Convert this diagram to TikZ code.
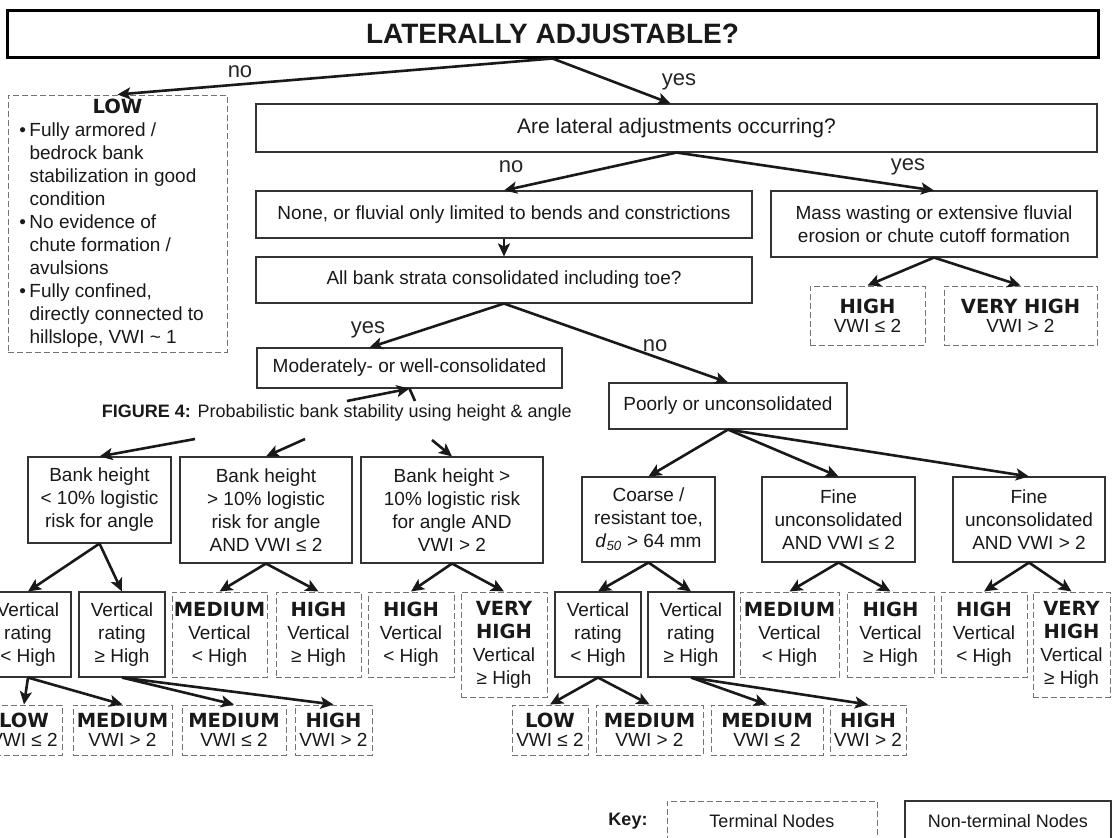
\documentclass[tikz,border=0pt]{standalone}
\usepackage{fontspec}
\setmainfont{Liberation Sans}
\newfontfamily\heavyfam{DejaVu Sans}
\usepackage{tikz}
\usetikzlibrary{arrows.meta}

\newcommand\boxfont{\fontsize{19}{23}\selectfont}
\newcommand\bigfont{\fontsize{21}{25}\selectfont}
\newcommand\rankfont{\heavyfam\bfseries\fontsize{19.5}{23}\selectfont}
\newcommand\labfont{\fontsize{22}{26}\selectfont}
\newcommand\blt{\makebox[10pt][l]{•}}
\newcommand\indnt{\hspace*{10pt}}

\begin{document}
\begin{tikzpicture}[x=1pt,y=-1pt,
    nt/.style={draw=black!80, line width=1.1pt, align=center, inner sep=0pt, font=\boxfont, text=black!90},
    term/.style={draw=black!55, line width=1pt, dash pattern=on 6pt off 3pt, align=center, inner sep=0pt, font=\boxfont, text=black!90},
    sz/.style 2 args={minimum width=#1pt, minimum height=#2pt},
    arr/.style={-{Stealth[length=13pt,width=12pt,inset=3pt]}, line width=2.6pt, draw=black!90},
    yn/.style={font=\labfont, inner sep=0pt, text=black!85}]

    \fill[white] (0,0) rectangle (1112,838);
    \useasboundingbox (0,0) rectangle (1112,838);

    % upper part
    \node[nt, sz={1091}{47}, line width=3pt, draw=black, font=\bfseries\fontsize{28}{30}\selectfont] (top) at (552.5,33.5) {LATERALLY ADJUSTABLE?};
    \node[term, sz={219}{257}, align=left] (low) at (117.5,223.5) {\makebox[196pt]{\rankfont LOW}\\
        \blt Fully armored /\\ \indnt bedrock bank\\ \indnt stabilization in good\\ \indnt condition\\
        \blt No evidence of\\ \indnt chute formation /\\ \indnt avulsions\\
        \blt Fully confined,\\ \indnt directly connected to\\ \indnt hillslope, VWI \textasciitilde{} 1};
    \node[nt, sz={841}{48}, font=\bigfont] (alat) at (676.5,128) {Are lateral adjustments occurring?};
    \node[nt, sz={496}{47}] (none) at (504,214.5) {None, or fluvial only limited to bends and constrictions};
    \node[nt, sz={326}{66}] (mass) at (934,224) {Mass wasting or extensive fluvial\\erosion or chute cutoff formation};
    \node[nt, sz={496}{46}] (allb) at (504,280) {All bank strata consolidated including toe?};
    \node[term, sz={115}{59}] (mhigh) at (867.5,315.5) {{\rankfont HIGH}\\[-4pt]VWI ≤ 2};
    \node[term, sz={153}{59}] (mvhigh) at (1020.5,315.5) {{\rankfont VERY HIGH}\\[-4pt]VWI > 2};
    \node[nt, sz={305}{40}] (mod) at (409.5,368) {Moderately- or well-consolidated};
    \node[nt, sz={238}{46}] (poor) at (728,406) {Poorly or unconsolidated};
    \node[font=\fontsize{18}{22}\selectfont, inner sep=0pt, anchor=east, text=black!90] (cap) at (572,413) {\textbf{FIGURE 4:} Probabilistic bank stability using height \& angle};

    % middle row
    \node[nt, sz={143}{86}] (bank1) at (99.5,500) {Bank height\\< 10\% logistic\\risk for angle};
    \node[nt, sz={172}{106}] (bank2) at (266,510) {Bank height\\> 10\% logistic\\risk for angle\\AND VWI ≤ 2};
    \node[nt, sz={182}{106}] (bank3) at (452,510) {Bank height >\\10\% logistic risk\\for angle AND\\VWI > 2};
    \node[nt, sz={133}{85}] (coarse) at (648.5,519.5) {Coarse /\\resistant toe,\\\textit{d}\textsubscript{\textit{50}} > 64 mm};
    \node[nt, sz={153}{85}] (fine1) at (838.5,519.5) {Fine\\unconsolidated\\AND VWI ≤ 2};
    \node[nt, sz={152}{85}] (fine2) at (1029,519.5) {Fine\\unconsolidated\\AND VWI > 2};

    % vertical rating row
    \node[nt, sz={86}{85}] (vr1) at (28,634.5) {Vertical\\rating\\< High};
    \node[nt, sz={86}{85}] (vr2) at (122,634.5) {Vertical\\rating\\≥ High};
    \node[term, sz={95}{85}] (t1) at (219.5,634.5) {{\rankfont MEDIUM}\\Vertical\\< High};
    \node[term, sz={85}{85}] (t2) at (318.5,634.5) {{\rankfont HIGH}\\Vertical\\≥ High};
    \node[term, sz={86}{85}] (t3) at (411,634.5) {{\rankfont HIGH}\\Vertical\\< High};
    \node[term, sz={86}{105}] (t4) at (504,644.5) {{\rankfont VERY}\\{\rankfont HIGH}\\Vertical\\≥ High};
    \node[nt, sz={86}{85}] (vr3) at (598,634.5) {Vertical\\rating\\< High};
    \node[nt, sz={86}{85}] (vr4) at (691,634.5) {Vertical\\rating\\≥ High};
    \node[term, sz={99}{85}] (t5) at (789.5,634.5) {{\rankfont MEDIUM}\\Vertical\\< High};
    \node[term, sz={87}{85}] (t6) at (890.5,634.5) {{\rankfont HIGH}\\Vertical\\≥ High};
    \node[term, sz={86}{85}] (t7) at (984,634.5) {{\rankfont HIGH}\\Vertical\\< High};
    \node[term, sz={77}{105}] (t8) at (1071.5,644.5) {{\rankfont VERY}\\{\rankfont HIGH}\\Vertical\\≥ High};

    % last row
    \node[term, sz={76}{50}] (b1) at (24,730) {{\rankfont LOW}\\[-4pt]VWI ≤ 2};
    \node[term, sz={99}{50}] (b2) at (122.5,730) {{\rankfont MEDIUM}\\[-4pt]VWI > 2};
    \node[term, sz={104}{50}] (b3) at (234,730) {{\rankfont MEDIUM}\\[-4pt]VWI ≤ 2};
    \node[term, sz={77}{50}] (b4) at (333.5,730) {{\rankfont HIGH}\\[-4pt]VWI > 2};
    \node[term, sz={76}{50}] (b5) at (550,730) {{\rankfont LOW}\\[-4pt]VWI ≤ 2};
    \node[term, sz={107}{50}] (b6) at (649.5,730) {{\rankfont MEDIUM}\\[-4pt]VWI > 2};
    \node[term, sz={112}{50}] (b7) at (767,730) {{\rankfont MEDIUM}\\[-4pt]VWI ≤ 2};
    \node[term, sz={76}{50}] (b8) at (868,730) {{\rankfont HIGH}\\[-4pt]VWI > 2};

    % key
    \node[font=\bfseries\fontsize{18}{22}\selectfont, text=black!90] (key) at (628,821) {Key:};
    \node[term, sz={210}{40}, font=\fontsize{18}{22}\selectfont] (kterm) at (772,821) {Terminal Nodes};
    \node[nt, sz={206}{40}, font=\fontsize{18}{22}\selectfont] (knon) at (1008,821) {Non-terminal Nodes};

    % branch labels
    \node[yn] (no1) at (240,72) {no};
    \node[yn] (yes1) at (679,82) {yes};
    \node[yn] (no2) at (511,167) {no};
    \node[yn] (yes2) at (908,167) {yes};
    \node[yn] (yes3) at (368,330) {yes};
    \node[yn] (no3) at (655,346) {no};

    \coordinate (c1) at (195,439);
    \coordinate (c2) at (305,439);
    \coordinate (c3) at (432,440);
    \coordinate (m1) at (347,401);
    \coordinate (m2) at (415,401);

    % connectors
    \draw[arr] (top.south) -- (low.north);
    \draw[arr] (top.south) -- ([xshift=-6pt]alat.north);
    \draw[arr] (allb.south) -- ([xshift=-40pt]mod.north);
    \draw[arr] (m1) -- (mod.south);
    \draw[line width=2.6pt, draw=black!90] (mod.south) -- (m2);
    \foreach \c/\q in {c1/bank1, c2/bank2, c3/bank3}
        \draw[arr] (\c) -- (\q.north);
    \foreach \p/\q in {alat/none, alat/mass, none/allb, mass/mhigh, mass/mvhigh, allb/poor,
            bank1/vr1, bank1/vr2, bank2/t1, bank2/t2, bank3/t3, bank3/t4,
            poor/coarse, poor/fine1, poor/fine2, coarse/vr3, coarse/vr4,
            fine1/t5, fine1/t6, fine2/t7, fine2/t8,
            vr1/b1, vr1/b2, vr2/b3, vr2/b4, vr3/b5, vr3/b6, vr4/b7, vr4/b8}
        \draw[arr] (\p.south) -- (\q.north);
\end{tikzpicture}
\end{document}
